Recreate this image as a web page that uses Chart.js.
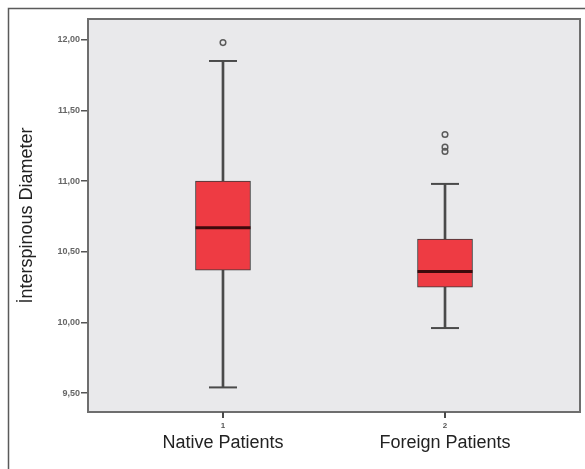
<!DOCTYPE html>
<html>
<head>
<meta charset="utf-8">
<script src="https://cdn.jsdelivr.net/npm/chart.js@4/dist/chart.umd.min.js"></script>
<style>
  body { margin: 0; background: #fff; }
  canvas { display: block; }
</style>
</head>
<body>
<canvas id="box-chart" width="585" height="469"></canvas>
<script>
// data
const groups = ["Native Patients", "Foreign Patients"];
const groupPos = [1, 2];
const whiskerLow = [9.54, 9.96];
const q1 = [10.37, 10.25];
const median = [10.67, 10.36];
const q3 = [11.00, 10.59];
const whiskerHigh = [11.85, 10.98];
const outliers = [[11.98], [11.33, 11.24, 11.21]];
const yTicks = [9.5, 10, 10.5, 11, 11.5, 12];
const xTicks = [1, 2];

// build the points from the arrays
const whiskerData = groupPos.map((x, i) => ({ x: x, y: [whiskerLow[i], whiskerHigh[i]] }));
const boxData = groupPos.map((x, i) => ({ x: x, y: [q1[i], q3[i]] }));
const medianData = groupPos.map((x, i) => ({ x: x, y: median[i] }));
let capData = [];
groupPos.forEach((x, i) => {
    capData.push({ x: x, y: whiskerLow[i] });
    capData.push({ x: x, y: whiskerHigh[i] });
});
let outlierData = [];
groupPos.forEach((x, i) => {
    outliers[i].forEach(v => outlierData.push({ x: x, y: v }));
});

// plot background, plot border, x tick marks and the outer frame
const framePlugin = {
    id: 'frame',
    beforeDraw(chart) {
        const ctx = chart.ctx;
        const a = chart.chartArea;
        ctx.save();
        ctx.fillStyle = '#e9e9eb';
        ctx.fillRect(a.left, a.top, a.right - a.left, a.bottom - a.top);
        ctx.strokeStyle = '#5a5a5a';
        ctx.lineWidth = 1.5;
        ctx.beginPath();
        ctx.moveTo(8.5, chart.height);
        ctx.lineTo(8.5, 8.5);
        ctx.lineTo(chart.width, 8.5);
        ctx.stroke();
        ctx.restore();
    },
    afterDraw(chart) {
        const ctx = chart.ctx;
        const a = chart.chartArea;
        const xs = chart.scales.x;
        ctx.save();
        ctx.strokeStyle = '#6e6e6e';
        ctx.lineWidth = 2;
        ctx.strokeRect(a.left, a.top, a.right - a.left, a.bottom - a.top);
        ctx.strokeStyle = '#4a4a4a';
        ctx.beginPath();
        xTicks.forEach(v => {
            const px = Math.round(xs.getPixelForValue(v));
            ctx.moveTo(px, a.bottom);
            ctx.lineTo(px, a.bottom + 6);
        });
        ctx.stroke();
        ctx.restore();
    }
};

// keep the axes from asking for extra room at their ends
function noPad(scale) {
    scale.paddingLeft = 0;
    scale.paddingRight = 0;
    scale.paddingTop = 0;
    scale.paddingBottom = 0;
}

const fontFamily = '"Liberation Sans", Arial, sans-serif';

new Chart(document.getElementById("box-chart"), {
    type: 'bar',
    data: {
        datasets: [{
            label: 'whisker',
            data: whiskerData,
            backgroundColor: '#4a4a4a',
            barThickness: 2,
            grouped: false,
            order: 4
        }, {
            label: 'box',
            data: boxData,
            backgroundColor: '#ee3b43',
            borderColor: '#3a3a3a',
            borderWidth: 1,
            borderSkipped: false,
            barThickness: 55,
            grouped: false,
            order: 3
        }, {
            type: 'scatter',
            label: 'caps',
            data: capData,
            pointStyle: 'line',
            pointRadius: 14,
            borderWidth: 2,
            borderColor: '#4a4a4a',
            order: 2
        }, {
            type: 'scatter',
            label: 'median',
            data: medianData,
            pointStyle: 'line',
            pointRadius: 27.5,
            borderWidth: 3,
            borderColor: '#3d0a0c',
            order: 1
        }, {
            type: 'scatter',
            label: 'outliers',
            data: outlierData,
            pointStyle: 'circle',
            pointRadius: 2.8,
            borderWidth: 1.5,
            borderColor: '#5a5a5a',
            backgroundColor: 'rgba(0,0,0,0)',
            order: 0
        }]
    },
    options: {
        responsive: false,
        devicePixelRatio: 1,
        animation: false,
        layout: {
            autoPadding: false,
            padding: { left: 0, top: 19, right: 5, bottom: 10 }
        },
        plugins: {
            legend: { display: false },
            tooltip: { enabled: false }
        },
        scales: {
            x: {
                type: 'linear',
                position: 'bottom',
                offset: false,
                min: 0.392,
                max: 2.608,
                afterBuildTicks: scale => { scale.ticks = xTicks.map(v => ({ value: v })); },
                afterFit: scale => { scale.height = 20; noPad(scale); },
                border: { display: false },
                grid: { offset: false, drawOnChartArea: false, tickLength: 6, color: '#4a4a4a', lineWidth: 2 },
                ticks: {
                    padding: 3,
                    color: '#555',
                    font: { family: fontFamily, size: 8, weight: 'bold' },
                    callback: v => String(v)
                }
            },
            names: {
                type: 'linear',
                position: 'bottom',
                offset: false,
                min: 0.392,
                max: 2.608,
                afterBuildTicks: scale => { scale.ticks = xTicks.map(v => ({ value: v })); },
                afterFit: scale => { scale.height = 27; noPad(scale); },
                border: { display: false },
                grid: { offset: false, display: false, drawTicks: false },
                ticks: {
                    padding: 0,
                    color: '#222',
                    font: { family: fontFamily, size: 18 },
                    callback: v => groups[groupPos.indexOf(v)]
                }
            },
            y: {
                min: 9.366,
                max: 12.147,
                afterBuildTicks: scale => { scale.ticks = yTicks.map(v => ({ value: v })); },
                afterFit: scale => { scale.width = 88; noPad(scale); },
                border: { display: false },
                grid: { drawOnChartArea: false, tickLength: 7, color: '#555', lineWidth: 1.5 },
                ticks: {
                    padding: 1,
                    color: '#666',
                    font: { family: fontFamily, size: 9, weight: 'bold' },
                    callback: v => v.toFixed(2).replace('.', ',')
                },
                title: {
                    display: true,
                    text: 'İnterspinous Diameter',
                    color: '#222',
                    padding: { top: 16, bottom: 0 },
                    font: { family: fontFamily, size: 18 }
                }
            }
        }
    },
    plugins: [framePlugin]
});
</script>
</body>
</html>
